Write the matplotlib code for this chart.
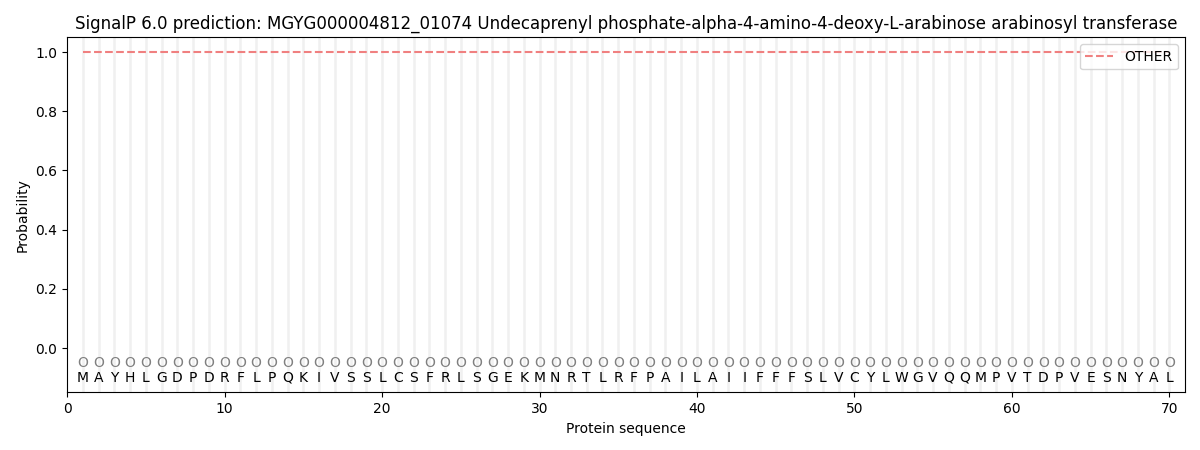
import matplotlib

matplotlib.use("Agg")
import matplotlib.pyplot as plt

title = ("SignalP 6.0 prediction: MGYG000004812_01074 Undecaprenyl phosphate-alpha-4-amino-4-deoxy-L-arabinose "
         "arabinosyl transferase")
sequence = list("MAYHLGDPDRFLPQKIVSSLCSFRLSGEKMNRTLRFPAILAIIFFFSLVCYLWGVQQMPVTDPVESNYAL")
positions = list(range(1, len(sequence) + 1))
prob_other = [1.0] * len(sequence)
pred_labels = ["O"] * len(sequence)

fig, ax = plt.subplots(figsize=(12, 4.5), dpi=100)

# light vertical guide at each residue
for p in positions:
    ax.axvline(p, color="#f0f0f0", linewidth=1.8, zorder=0)

ax.plot(positions, prob_other, linestyle="--", color="#f08080", linewidth=1.5, label="OTHER")

for p, aa, lab in zip(positions, sequence, pred_labels):
    ax.text(p, -0.05, lab, ha="center", va="center", fontsize=10, color="grey")
    ax.text(p, -0.1, aa, ha="center", va="center", fontsize=10, color="black")

ax.set_xlim(0, 71)
ax.set_ylim(-0.15, 1.05)
ax.set_xlabel("Protein sequence")
ax.set_ylabel("Probability")
ax.set_title(title)
ax.legend(loc="upper right")

fig.subplots_adjust(left=0.056, right=0.9875, top=0.917, bottom=0.128)
fig.savefig("out.png")
